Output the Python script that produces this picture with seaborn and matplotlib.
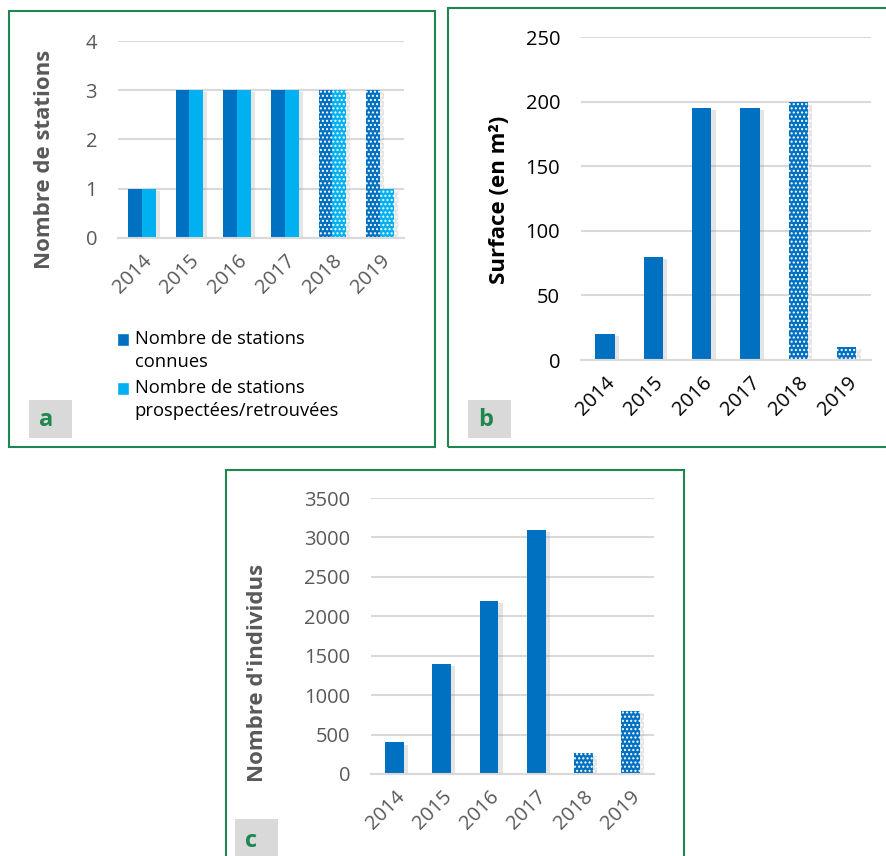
import matplotlib
matplotlib.use("Agg")
import matplotlib.pyplot as plt
import matplotlib.patheffects as pe
from matplotlib.patches import Rectangle, Patch
from matplotlib.legend_handler import HandlerPatch
import seaborn as sns
import pandas as pd

years = ["2014", "2015", "2016", "2017", "2018", "2019"]
stations_connues = [1, 3, 3, 3, 3, 3]
stations_prospectees = [1, 3, 3, 3, 3, 1]
surface = [20, 80, 195, 195, 200, 10]
individus = [400, 1400, 2200, 3100, 260, 800]
dotted_years = ["2018", "2019"]

series_names = ["Nombre de stations\nconnues", "Nombre de stations\nprospectées/retrouvées"]
label_a = "Nombre de stations"
label_b = "Surface (en m²)"
label_c = "Nombre d'individus"

DARK = "#0070C0"
LIGHT = "#00B0F0"
GREEN = "#1E8650"
GRAY_TXT = "#595959"

sns.set_theme(style="white")
plt.rcParams["font.family"] = ["Open Sans", "DejaVu Sans"]
plt.rcParams["hatch.linewidth"] = 1.0

fig = plt.figure(figsize=(8.87, 8.56), dpi=100)

shadow = [pe.SimplePatchShadow(offset=(3, -1.5), shadow_rgbFace="#9A9A9A", alpha=0.25), pe.Normal()]


def style_axis(ax, ymax, ystep, txtcolor, ylabel, lblcoords):
    ax.set_xlim(-0.5, 5.5)
    ax.set_ylim(0, ymax)
    ax.set_yticks(range(0, ymax + 1, ystep))
    ax.yaxis.grid(True, color="#D9D9D9", linewidth=1.5)
    ax.set_axisbelow(True)
    for s in ["top", "right", "left"]:
        ax.spines[s].set_visible(False)
    ax.spines["bottom"].set_color("#D9D9D9")
    ax.spines["bottom"].set_linewidth(1.5)
    ax.tick_params(axis="both", length=0, labelsize=14.5, colors=txtcolor)
    ax.tick_params(axis="y", pad=15)
    ax.tick_params(axis="x", pad=9)
    for t in ax.get_xticklabels():
        t.set_rotation(45)
        t.set_ha("right")
        t.set_rotation_mode("anchor")
    ax.set_xlabel("")
    ax.set_ylabel(ylabel, fontsize=16, fontweight="bold", color=txtcolor)
    ax.yaxis.set_label_coords(*lblcoords)


def apply_patterns(ax, cats):
    for cont in ax.containers:
        for bar, cat in zip(cont, cats):
            bar.set_linewidth(0)
            bar.set_path_effects(shadow)
            if cat in dotted_years:
                bar.set_hatch("....")
                bar.set_edgecolor("white")


def raised_square(legend, orig_handle, xdescent, ydescent, width, height, fontsize):
    return Rectangle((-xdescent, -ydescent + 0.62 * fontsize), width, height)


# ---- panel a
df_a = pd.DataFrame({
    "year": years * 2,
    "value": stations_connues + stations_prospectees,
    "serie": [series_names[0]] * 6 + [series_names[1]] * 6,
})
ax_a = fig.add_axes([0.1330, 0.7220, 0.3224, 0.2301])
sns.barplot(data=df_a, x="year", y="value", hue="serie", palette=[DARK, LIGHT],
            width=0.58, ax=ax_a, legend=False, saturation=1, gap=0)
apply_patterns(ax_a, years)
style_axis(ax_a, 4, 1, GRAY_TXT, label_a, (-0.22, 0.40))
handles = [Patch(facecolor=DARK, label=series_names[0]), Patch(facecolor=LIGHT, label=series_names[1])]
leg = fig.legend(handles=handles, loc="upper left", bbox_to_anchor=(0.128, 0.619), frameon=False,
                 fontsize=13.2, handlelength=0.65, handleheight=0.65, handletextpad=0.3,
                 labelspacing=0.45, labelcolor="black", borderaxespad=0, borderpad=0.2,
                 handler_map={Patch: HandlerPatch(patch_func=raised_square)})
for t in leg.get_texts():
    t.set_linespacing(1.35)

# ---- panel b
df_b = pd.DataFrame({"year": years, "value": surface})
ax_b = fig.add_axes([0.6550, 0.5794, 0.3269, 0.3773])
sns.barplot(data=df_b, x="year", y="value", color=DARK, width=0.4, ax=ax_b, saturation=1)
apply_patterns(ax_b, years)
style_axis(ax_b, 250, 50, "black", label_b, (-0.245, 0.495))

# ---- panel c
df_c = pd.DataFrame({"year": years, "value": individus})
ax_c = fig.add_axes([0.4183, 0.0958, 0.3191, 0.3224])
sns.barplot(data=df_c, x="year", y="value", color=DARK, width=0.4, ax=ax_c, saturation=1)
apply_patterns(ax_c, years)
style_axis(ax_c, 3500, 500, GRAY_TXT, label_c, (-0.364, 0.366))

# ---- frames and panel letters
frames = [(0.0101, 0.4778, 0.4803, 0.5093), (0.5051, 0.4778, 0.52, 0.5129), (0.2548, -0.01, 0.5163, 0.461)]
for (x, y, w, h) in frames:
    fig.patches.append(Rectangle((x, y), w, h, transform=fig.transFigure, fill=False,
                                 edgecolor=GREEN, linewidth=1.5, zorder=0))

letters = [("a", 0.0327, 0.4883), ("b", 0.5276, 0.4883), ("c", 0.2649, -0.005)]
for (txt, x, y) in letters:
    fig.patches.append(Rectangle((x, y), 0.0485, 0.0444 if txt != "c" else 0.048,
                                 transform=fig.transFigure, facecolor="#D9D9D9",
                                 edgecolor="none", zorder=0))
    fig.text(x + 0.011, y + 0.021 if txt != "c" else y + 0.022, txt, fontsize=17,
             fontweight="bold", color=GREEN, va="center", ha="left")

fig.savefig("out.png", dpi=100)
